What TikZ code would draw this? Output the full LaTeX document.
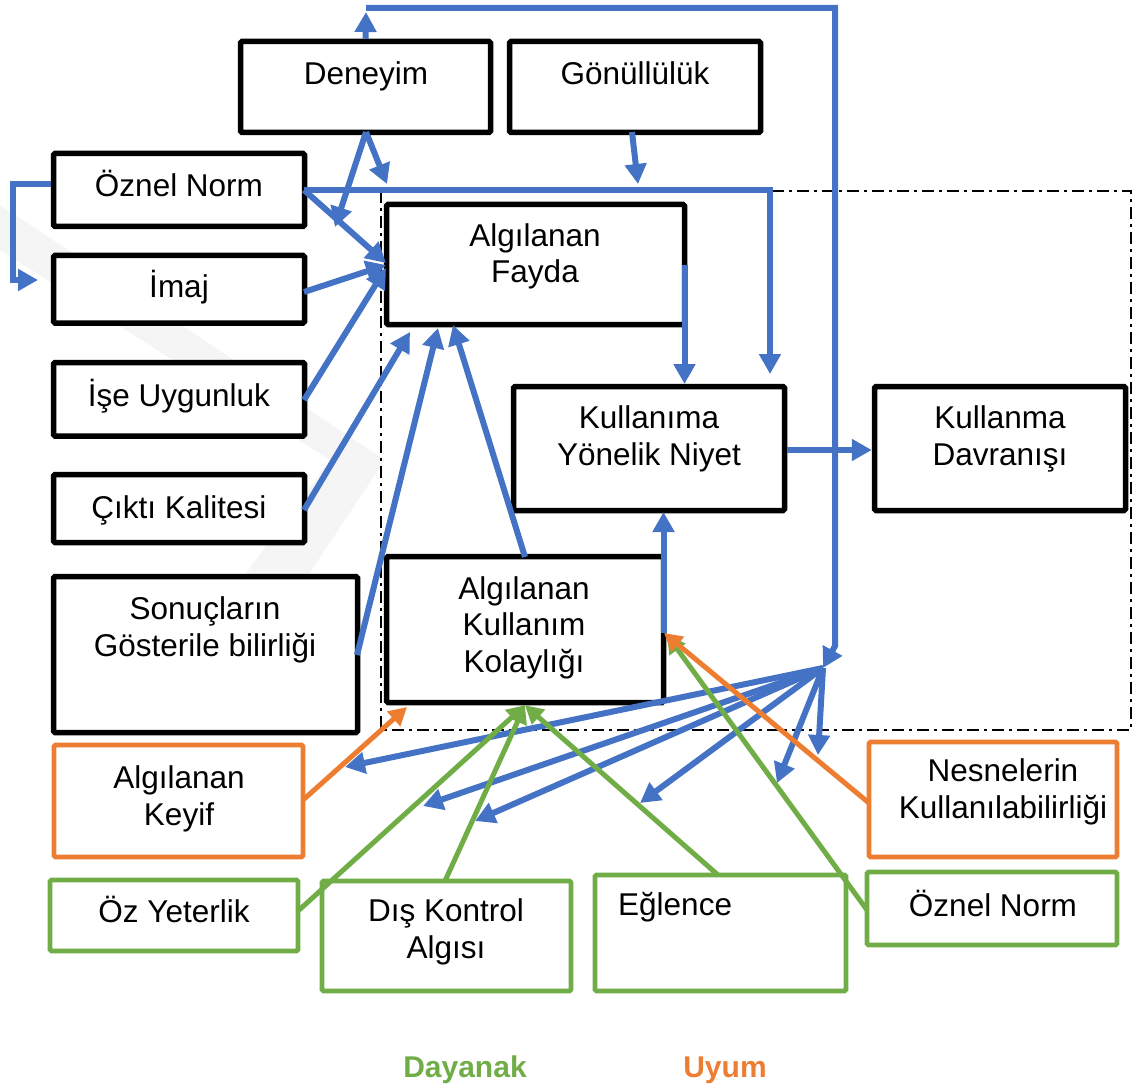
\documentclass[tikz,border=0pt]{standalone}
\usepackage{fontspec}
\setmainfont{Liberation Sans}
\usetikzlibrary{arrows.meta}
\definecolor{cblue}{HTML}{4472C4}
\definecolor{corange}{HTML}{ED7D31}
\definecolor{cgreen}{HTML}{70AD47}
% box from its two corners (centre of the stroke): name, style, x1, y1, x2, y2
\newcommand\mkbox[6]{\node[#2, minimum width={#5-#3}, minimum height={#6-#4}] (#1) at ({(#3+#5)/2},{(#4+#6)/2}) {};}
\begin{document}
\begin{tikzpicture}[x=1pt,y=-1pt,
  kbox/.style={draw=black, line width=5.5pt, fill=white, rounded corners=1.5pt, inner sep=0pt},
  obox/.style={draw=corange, line width=4.8pt, fill=white, rounded corners=1.5pt, inner sep=0pt},
  gbox/.style={draw=cgreen, line width=4.8pt, fill=white, rounded corners=1.5pt, inner sep=0pt},
  txt/.style={font=\fontsize{31.5}{36.5}\selectfont, inner sep=0pt, anchor=base, align=center},
  legend/.style={font=\fontsize{30}{36}\selectfont\bfseries, inner sep=0pt, anchor=base},
  bline/.style={draw=cblue, line width=6pt},
  barrow/.style={bline, -{Triangle[length=20pt,width=21pt]}},
  garrow/.style={draw=cgreen, line width=5pt, -{Triangle[length=18pt,width=19pt]}},
  oarrow/.style={draw=corange, line width=5pt, -{Triangle[length=18pt,width=19pt]}},
  frame/.style={draw=black, line width=2.2pt, dash pattern=on 12pt off 5pt on 3pt off 5pt}
]
\useasboundingbox (0,0) rectangle (1133,1086);

% faint background chevron
\fill[black!4] (0,205) -- (385,460) -- (265,640) -- (215,615) -- (330,460) -- (0,250) -- cycle;

% dash-dot frame round the core model
\draw[frame] (381,191) rectangle (1131,730);

% black boxes
\mkbox{deneyim}{kbox}{240.5}{41.5}{490.5}{132.5}
\mkbox{gonul}{kbox}{509.5}{41.5}{760.5}{132.5}
\mkbox{oznelL}{kbox}{53.5}{153.5}{304.5}{226.5}
\mkbox{imaj}{kbox}{53.5}{255.5}{304.5}{323}
\mkbox{ise}{kbox}{53.5}{362.5}{304.5}{436}
\mkbox{cikti}{kbox}{53.5}{474.5}{304.5}{542.5}
\mkbox{sonuc}{kbox}{53.5}{576.5}{357.5}{732.5}
\mkbox{fayda}{kbox}{386.5}{204.5}{684.5}{324.5}
\mkbox{niyet}{kbox}{513.5}{386.5}{784.5}{510.5}
\mkbox{davr}{kbox}{874.5}{386.5}{1125.5}{510.5}
\mkbox{kolay}{kbox}{386.5}{556.5}{663.5}{702.5}
% orange boxes
\mkbox{keyif}{obox}{54}{745}{303}{857}
\mkbox{nesne}{obox}{869}{742}{1117}{857}
% green boxes
\mkbox{ozyet}{gbox}{50}{880}{298}{951}
\mkbox{dis}{gbox}{322}{881}{571}{991}
\mkbox{egl}{gbox}{595}{875}{846}{991}
\mkbox{oznelR}{gbox}{867}{872}{1117}{945}

% texts (base = baseline of the last line)
\node[txt] (t-deneyim) at (366,85) {Deneyim};
\node[txt] (t-gonul) at (635,85) {Gönüllülük};
\node[txt] (t-oznelL) at (179,197) {Öznel Norm};
\node[txt] (t-imaj) at (179,298) {İmaj};
\node[txt] (t-ise) at (179,406) {İşe Uygunluk};
\node[txt] (t-cikti) at (179,518) {Çıktı Kalitesi};
\node[txt] (t-sonuc) at (205,656) {Sonuçların\\Gösterile bilirliği};
\node[txt] (t-fayda) at (535,283) {Algılanan\\Fayda};
\node[txt] (t-niyet) at (649,465) {Kullanıma\\Yönelik Niyet};
\node[txt] (t-davr) at (1000,465) {Kullanma\\Davranışı};
\node[txt] (t-kolay) at (524,672) {Algılanan\\Kullanım\\Kolaylığı};
\node[txt] (t-keyif) at (179,825) {Algılanan\\Keyif};
\node[txt] (t-nesne) at (1003,818) {Nesnelerin\\Kullanılabilirliği};
\node[txt] (t-ozyet) at (174,922) {Öz Yeterlik};
\node[txt] (t-dis) at (446,958) {Dış Kontrol\\Algısı};
\node[txt, anchor=base west] (t-egl) at (618,915) {Eğlence};
\node[txt] (t-oznelR) at (993,916) {Öznel Norm};
\node[legend, text=cgreen] (l-dayanak) at (465,1077) {Dayanak};
\node[legend, text=corange] (l-uyum) at (725,1077) {Uyum};

% free ends of the connectors
\coordinate (hub) at (823,668);
\coordinate (topL) at (366,8);
\coordinate (topR) at (835,8);
\coordinate (denR) at (387,184);
\coordinate (denL) at (335,227);
\coordinate (gonE) at (638,184);
\coordinate (nrmE) at (770,374);
\coordinate (fIn1) at (386,263);
\coordinate (fIn2) at (386,265);
\coordinate (fIn3) at (386,268);
\coordinate (fIn4) at (410,332);
\coordinate (fIn5) at (438,328);
\coordinate (fIn6) at (453,325);
\coordinate (kR) at (664,633);
\coordinate (h1) at (818,755);
\coordinate (h2) at (777,783);
\coordinate (h3) at (640,803);
\coordinate (h4) at (475,821);
\coordinate (h5) at (423,806);
\coordinate (h6) at (345,767);
\coordinate (keyT) at (407,707);

% blue connectors
\draw[barrow] (deneyim.north) -- (366,12);
\draw[barrow] (topL) -- (topR) -- (835,646) -- (hub);
\draw[barrow] (366,132) -- (denR);
\draw[barrow] (366,132) -- (denL);
\draw[barrow] (632,132) -- (gonE);
\draw[barrow] (304,190) -- (fIn1);
\draw[barrow] (304,190) -- (770,190) -- (nrmE);
\draw[barrow] (oznelL.west |- 0,184) -- (13,184) -- (13,280) -- (38,280);
\draw[barrow] (304,292) -- (fIn2);
\draw[barrow] (304,400) -- (fIn3);
\draw[barrow] (304,510) -- (fIn4);
\draw[barrow] (357,655) -- (fIn5);
\draw[barrow] (525,557) -- (fIn6);
\draw[barrow] (684.5,265) -- (684.5,384);
\draw[barrow] (663.5,633) -- (663.5,512);
\draw[barrow] (niyet.east |- 0,450) -- (davr.west |- 0,450);
\foreach \t in {h1,h2,h3,h4,h5,h6} \draw[barrow] (hub) -- (\t);

% green connectors
\draw[garrow] (298,911) -- (kolay.south);
\draw[garrow] (445,881) -- (kolay.south);
\draw[garrow] (718,875) -- (kolay.south);
\draw[garrow] (867,910) -- (667,635);

% orange connectors
\draw[oarrow] (303,800) -- (keyT);
\draw[oarrow] (869,803) -- (kR);
\end{tikzpicture}
\end{document}
